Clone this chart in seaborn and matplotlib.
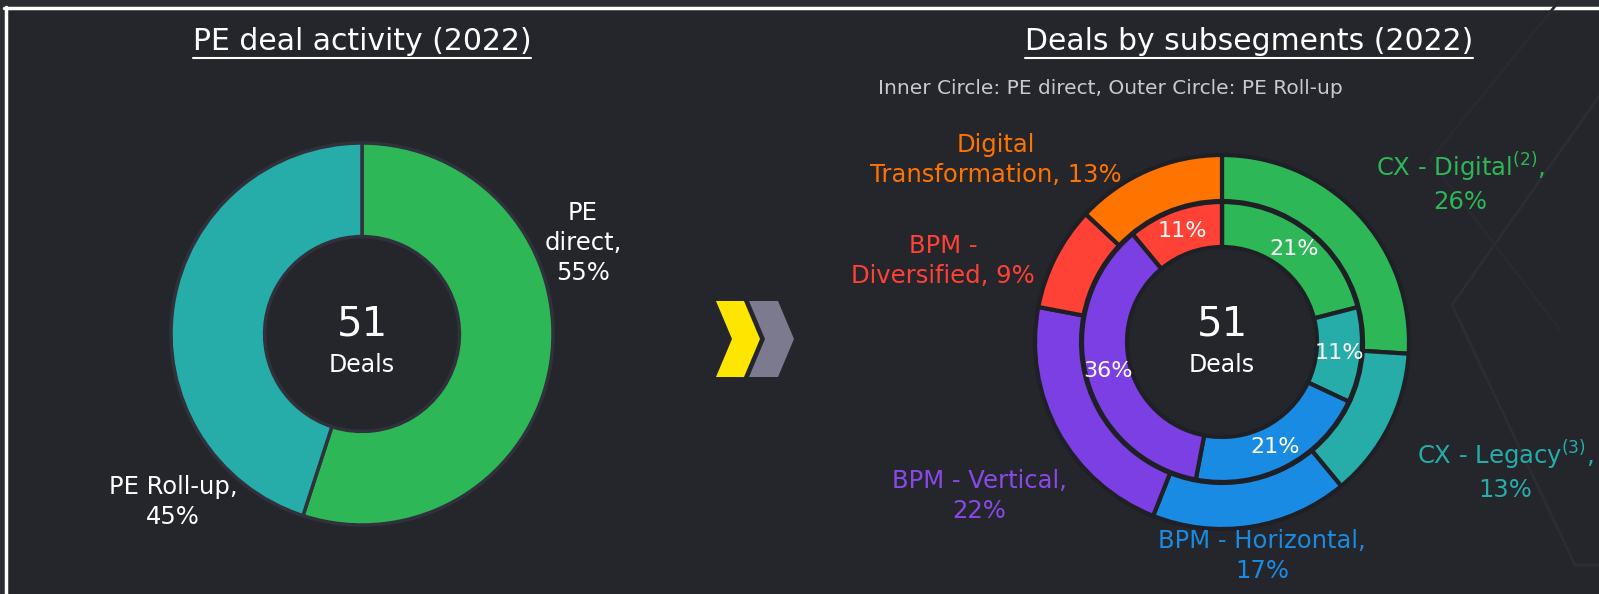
import matplotlib
matplotlib.use("Agg")
import numpy as np
import matplotlib.pyplot as plt
import seaborn as sns
from matplotlib.patches import Polygon, Rectangle
from matplotlib.lines import Line2D

# ---- data ----
activity_labels = ["PE direct", "PE Roll-up"]
activity_share = [55, 45]
total_deals = 51

segments = ["CX - Digital", "CX - Legacy", "BPM - Horizontal",
            "BPM - Vertical", "BPM - Diversified", "Digital Transformation"]
rollup_share = [26, 13, 17, 22, 9, 13]    # outer circle
direct_share = [21, 11, 21, 36, 11, 0]    # inner circle
outer_labels = ["CX - Digital$^{(2)}$,\n26%", "CX - Legacy$^{(3)}$,\n13%",
                "BPM - Horizontal,\n17%", "BPM - Vertical,\n22%",
                "BPM -\nDiversified, 9%", "Digital\nTransformation, 13%"]

seg_colors = ["#2db757", "#26ada9", "#1a8be3", "#7b3fe4", "#ff4136", "#ff7300"]
label_colors = ["#2db757", "#26ada9", "#1a8be3", "#8a48ea", "#ff4136", "#ff7300"]
activity_colors = ["#2db757", "#26ada9"]

BG = "#25262c"
W, H = 1599, 594

sns.set_theme(style="dark")
plt.rcParams['font.family'] = ['DejaVu Sans']
palette = sns.color_palette(seg_colors)

fig = plt.figure(figsize=(W / 100, H / 100), dpi=100, facecolor="#2c2d32")

# background layer in pixel coordinates
bg = fig.add_axes([0, 0, 1, 1], zorder=0)
bg.set_xlim(0, W)
bg.set_ylim(H, 0)
bg.axis("off")
bg.add_patch(Rectangle((6, 9), W, H, color=BG, lw=0))
bg.add_line(Line2D([4, W], [8, 8], color="white", lw=2.5))
bg.add_line(Line2D([5.5, 5.5], [7, H], color="white", lw=2.5))
# faint hexagon decoration on the right
bg.add_line(Line2D([1600, 1452, 1575, 1600], [95, 305, 565, 565],
                   color="#2c2d33", lw=2))
bg.add_line(Line2D([1560, 1430, 1560], [0, 160, 330],
                   color="#292a30", lw=2))


def px_axes(cx, cy, r, pad=1.04):
    rr = r * pad
    ax = fig.add_axes([(cx - rr) / W, 1 - (cy + rr) / H, 2 * rr / W, 2 * rr / H], zorder=2)
    ax.set_facecolor("none")
    return ax, pad


# ---- left donut ----
ax1, pad = px_axes(362, 334, 191)
ax1.pie(activity_share, colors=activity_colors, startangle=90, counterclock=False,
        wedgeprops=dict(width=0.49, edgecolor="#30313c", linewidth=2.5))
ax1.set_xlim(-pad, pad)
ax1.set_ylim(-pad, pad)
ax1.set_aspect("equal")
ax1.axis("off")

# ---- right donut ----
R = 187
ax2, pad = px_axes(1222, 342, R)
ax2.pie(rollup_share, colors=palette, startangle=90, counterclock=False, radius=1.0,
        wedgeprops=dict(width=46 / R, edgecolor="#1f2026", linewidth=3))
r_in = 140 / R
ax2.pie(direct_share, colors=palette, startangle=90, counterclock=False, radius=r_in,
        wedgeprops=dict(width=45 / R, edgecolor="#1f2026", linewidth=3),
        autopct=lambda p: f"{p:.0f}%" if p > 0.5 else "", pctdistance=0.84,
        textprops=dict(color="white", fontsize=16))
ax2.set_xlim(-pad, pad)
ax2.set_ylim(-pad, pad)
ax2.set_aspect("equal")
ax2.axis("off")

# ---- text overlay ----
ov = fig.add_axes([0, 0, 1, 1], zorder=5)
ov.set_xlim(0, W)
ov.set_ylim(H, 0)
ov.axis("off")

titles = [ov.text(362, 42, "PE deal activity (2022)", color="white", fontsize=21.5,
                  ha="center", va="center"),
          ov.text(1249, 42, "Deals by subsegments (2022)", color="white", fontsize=21.5,
                  ha="center", va="center")]
ov.text(878, 88, "Inner Circle: PE direct, Outer Circle: PE Roll-up", color="#c9c9ce",
        fontsize=14.5, ha="left", va="center")

for (cx, cy), d51, ddeals in [((362, 334), -10, 31), ((1222, 342), -18, 23)]:
    ov.text(cx, cy + d51, str(total_deals), color="white", fontsize=29,
            ha="center", va="center")
    ov.text(cx, cy + ddeals, "Deals", color="white", fontsize=17,
            ha="center", va="center")

ov.text(583, 243, "PE\ndirect,\n" + f"{activity_share[0]}%", color="white", fontsize=17.5,
        ha="center", va="center", linespacing=1.32)
ov.text(173, 502, "PE Roll-up,\n" + f"{activity_share[1]}%", color="white", fontsize=17.5,
        ha="center", va="center", linespacing=1.32)

label_pos = [(1460, 182), (1505, 470), (1262, 556), (979, 496), (943, 261), (996, 160)]
for (x, y), txt, c in zip(label_pos, outer_labels, label_colors):
    ov.text(x, y, txt, color=c, fontsize=17.5, ha="center", va="center", linespacing=1.3)

# chevron arrow
ov.add_patch(Polygon([(716, 301), (744, 301), (760, 339), (744, 377), (716, 377), (732, 339)],
                     closed=True, color="#ffe600", lw=0))
ov.add_patch(Polygon([(749, 301), (778, 301), (794, 339), (778, 377), (749, 377), (765, 339)],
                     closed=True, color="#7b7a8e", lw=0))

# underline titles
fig.canvas.draw()
renderer = fig.canvas.get_renderer()
for t in titles:
    bb = t.get_window_extent(renderer)
    y = H - bb.y0 + 1
    ov.add_line(Line2D([bb.x0, bb.x1], [y, y], color="white", lw=1.5))

fig.savefig("out.png", dpi=100, facecolor=fig.get_facecolor())
